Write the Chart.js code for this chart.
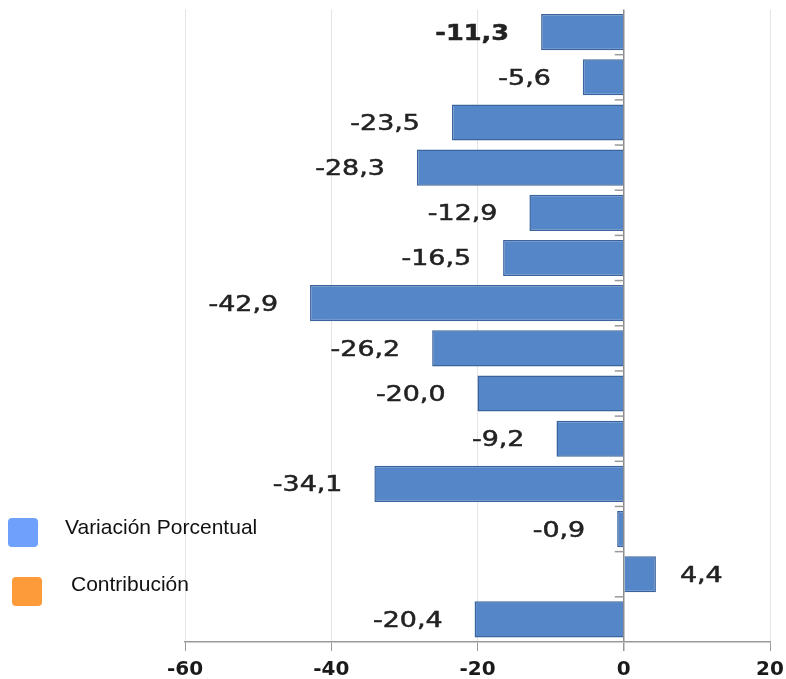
<!DOCTYPE html>
<html>
<head>
<meta charset="utf-8">
<script src="https://cdn.jsdelivr.net/npm/chart.js@4"></script>
<style>
  html, body { margin: 0; padding: 0; background: #fff; }
  #wrap { position: relative; width: 786px; height: 679px; }
  .leg-item { position: absolute; font-family: "Liberation Sans", Arial, sans-serif; font-size: 21px; line-height: 24px; color: #111; white-space: nowrap; }
  .leg-box { position: absolute; width: 30px; height: 29px; border-radius: 4px; }
</style>
</head>
<body>
<div id="wrap">
  <canvas id="myChart" width="786" height="679"></canvas>
  <div id="legend"></div>
</div>
<script>
const categories = ["1", "2", "3", "4", "5", "6", "7", "8", "9", "10", "11", "12", "13", "14"];
const values = [-11.3, -5.6, -23.5, -28.3, -12.9, -16.5, -42.9, -26.2, -20.0, -9.2, -34.1, -0.9, 4.4, -20.4];
const tickValues = [-60, -40, -20, 0, 20];
const legendLabels = ["Variación Porcentual", "Contribución"];
const legendColors = ["#6fa0fc", "#fd9b3a"];

// leyenda en html, encima del gráfico
const legendPos = [
  { box: [8, 518], text: [65, 515] },
  { box: [12, 577], text: [71, 572] }
];
const legend = document.getElementById("legend");
legendLabels.forEach(function(label, i) {
  const box = document.createElement("div");
  box.className = "leg-box";
  box.style.left = legendPos[i].box[0] + "px";
  box.style.top = legendPos[i].box[1] + "px";
  box.style.background = legendColors[i];
  legend.appendChild(box);
  const txt = document.createElement("div");
  txt.className = "leg-item";
  txt.style.left = legendPos[i].text[0] + "px";
  txt.style.top = legendPos[i].text[1] + "px";
  txt.textContent = label;
  legend.appendChild(txt);
});

// etiquetas de valor junto a cada barra
const barLabels = {
  id: "barLabels",
  afterDatasetsDraw(chart) {
    const ctx = chart.ctx;
    const meta = chart.getDatasetMeta(0);
    meta.data.forEach(function(bar, i) {
      const v = values[i];
      const txt = v.toFixed(1).replace(".", ",");
      const bold = i === 0;
      const stretch = bold ? 1.22 : 1.28;
      ctx.save();
      ctx.font = (bold ? "bold " : "") + "21px 'DejaVu Sans'";
      ctx.fillStyle = "#222";
      ctx.strokeStyle = "#222";
      ctx.lineWidth = 0.5;
      ctx.textBaseline = "middle";
      ctx.textAlign = "left";
      const w = ctx.measureText(txt).width * stretch;
      const x = v < 0 ? bar.x - 32 - w : bar.x + 24;
      ctx.translate(x, bar.y + 2);
      ctx.scale(stretch, 1);
      ctx.fillText(txt, 0, 0);
      ctx.strokeText(txt, 0, 0);
      ctx.restore();
    });
  }
};

// pequeñas marcas sobre la línea del cero, entre categorías
const zeroTicks = {
  id: "zeroTicks",
  afterDatasetsDraw(chart) {
    const ctx = chart.ctx;
    const x0 = chart.scales.x.getPixelForValue(0);
    const y = chart.scales.y;
    ctx.save();
    ctx.strokeStyle = "#9a9a9a";
    ctx.lineWidth = 1.5;
    for (let i = 0; i < categories.length - 1; i++) {
      const yy = (y.getPixelForValue(i) + y.getPixelForValue(i + 1)) / 2;
      ctx.beginPath();
      ctx.moveTo(x0 - 9, yy);
      ctx.lineTo(x0, yy);
      ctx.stroke();
    }
    ctx.restore();
  }
};

const ctx = document.getElementById("myChart").getContext("2d");
new Chart(ctx, {
  type: "bar",
  data: {
    labels: categories,
    datasets: [{
      label: legendLabels[0],
      data: values,
      backgroundColor: "#5586c8",
      borderColor: "#3b639e",
      borderWidth: 1.5,
      barPercentage: 0.8,
      categoryPercentage: 1
    }]
  },
  options: {
    indexAxis: "y",
    responsive: false,
    animation: false,
    layout: { padding: { left: 185, right: 16, top: 9.5, bottom: 0 } },
    plugins: { legend: { display: false }, tooltip: { enabled: false } },
    scales: {
      x: {
        min: tickValues[0],
        max: tickValues[tickValues.length - 1],
        afterBuildTicks(scale) {
          scale.ticks = tickValues.map(function(v) { return { value: v }; });
        },
        afterFit(scale) {
          // alto fijo del eje y sin relleno lateral extra
          scale.height = 37;
          scale.paddingLeft = 0;
          scale.paddingRight = 0;
        },
        ticks: {
          color: "#1a1a1a",
          padding: 9,
          font: { family: "DejaVu Sans", weight: "bold", size: 20, lineHeight: 1 }
        },
        grid: {
          color: function(c) { return c.tick && c.tick.value === 0 ? "#8c8c8c" : "#e4e4e4"; },
          lineWidth: function(c) { return c.tick && c.tick.value === 0 ? 1.5 : 1; },
          tickColor: "#9a9a9a",
          tickLength: 9
        },
        border: { color: "#9a9a9a", width: 1.5 }
      },
      y: { display: false }
    }
  },
  plugins: [barLabels, zeroTicks]
});
</script>
</body>
</html>
